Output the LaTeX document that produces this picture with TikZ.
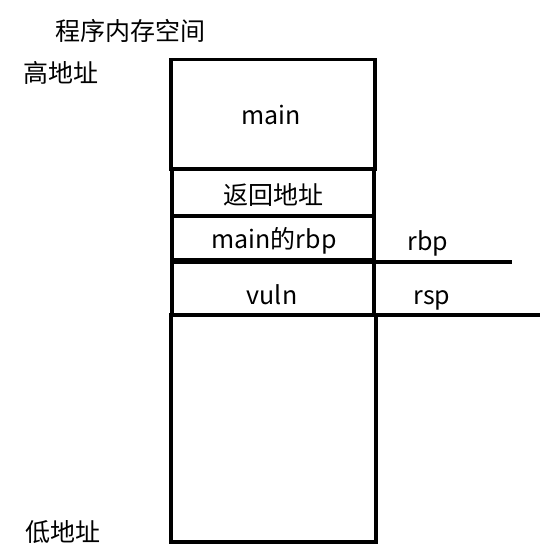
\documentclass[tikz,border=0pt]{standalone}
\usepackage{fontspec}
\setmainfont{Noto Sans CJK SC}
\begin{document}
\begin{tikzpicture}[x=1pt,y=-1pt,
  slot/.style={draw, line width=3.5pt, inner sep=0pt, outer sep=0pt},
  lbl/.style={font=\fontsize{25}{28}\selectfont, inner sep=0pt}]
\useasboundingbox (0,0) rectangle (547,557);
% stack frames
\node[slot, minimum width=204pt, minimum height=110pt] (mainbox) at (273,114.5) {};
\node[lbl] at (271,115) {main};
\node[slot, minimum width=202pt, minimum height=47pt] (retbox) at (273,192.5) {};
\node[lbl] at (273,195) {返回地址};
\node[slot, minimum width=202pt, minimum height=44pt] (rbpbox) at (273,238) {};
\node[lbl] at (274,241) {main的rbp};
\node[slot, minimum width=202pt, minimum height=53pt] (vulnbox) at (273,288.5) {};
\node[lbl] at (272,295) {vuln};
\node[slot, minimum width=205pt, minimum height=227pt] (lowbox) at (273.5,428.5) {};
% registers
\coordinate (rbpend) at (512,262);
\coordinate (rspend) at (540,315);
\draw[line width=3.5pt] (vulnbox.north east) -- (rbpend);
\draw[line width=3.5pt] (lowbox.north east) -- (rspend);
\node[lbl] (rbp) at (428,243) {rbp};
\node[lbl] (rsp) at (432,300) {rsp};
% titles
\node[lbl] (title) at (130,31) {程序内存空间};
\node[lbl] (high) at (61,73) {高地址};
\node[lbl] (low) at (63,532) {低地址};
\end{tikzpicture}
\end{document}
